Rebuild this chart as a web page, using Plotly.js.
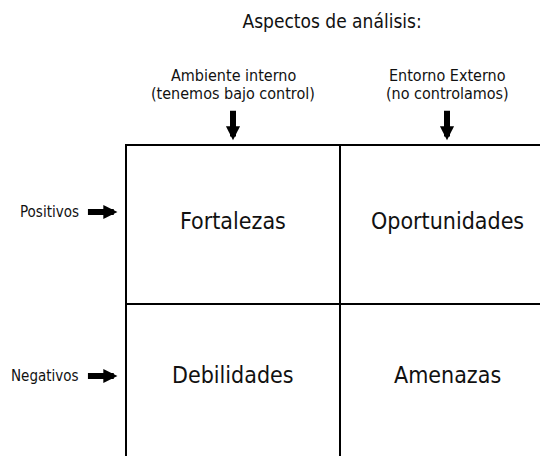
<!DOCTYPE html>
<html>
<head>
<meta charset="utf-8">
<script src="https://cdn.plot.ly/plotly-3.0.1.min.js"></script>
<style>
  html, body { margin: 0; padding: 0; background: #ffffff; }
  #chart { width: 540px; height: 456px; }
</style>
</head>
<body>
<div id="chart"></div>
<script>
// ---- data ----
const chartTitle = "Aspectos de análisis:";
const columnHeaderTop = ["Ambiente interno", "Entorno Externo"];
const columnHeaderBottom = ["(tenemos bajo control)", "(no controlamos)"];
const rowLabels = ["Positivos", "Negativos"];
const topRowCells = ["Fortalezas", "Oportunidades"];
const bottomRowCells = ["Debilidades", "Amenazas"];

// ---- layout helpers (positions / styles) ----
const FONT = '"DejaVu Sans Condensed", "Liberation Sans Narrow", sans-serif';
const INK = '#111111';
const colCenters = [0.5, 1.5];         // column centres in data units
const rowArrowY = [1.579, 0.547];      // y of the row labels / arrows
const cellTextY = [1.522, 0.553];      // y of the cell texts
const headerY = [2.44, 2.327];         // two header lines
const arrowTipY = 2.03;                // down arrows tip
const rowArrowTipX = -0.04;            // right arrows tip

const annotations = [];

// column headers + down arrows
colCenters.forEach((cx, i) => {
  annotations.push({x: cx, y: headerY[0], xref: 'x', yref: 'y', text: columnHeaderTop[i],
    showarrow: false, xanchor: 'center', yanchor: 'middle', font: {family: FONT, size: 16, color: INK}});
  annotations.push({x: cx, y: headerY[1], xref: 'x', yref: 'y', text: columnHeaderBottom[i],
    showarrow: false, xanchor: 'center', yanchor: 'middle', font: {family: FONT, size: 16, color: INK}});
  annotations.push({x: cx, y: arrowTipY, xref: 'x', yref: 'y', text: '', showarrow: true,
    ax: 0, ay: -31, arrowhead: 2, arrowsize: 0.47, arrowwidth: 6, arrowcolor: '#000', standoff: 0});
});

// row labels + right arrows
rowLabels.forEach((lab, j) => {
  annotations.push({x: rowArrowTipX, y: rowArrowY[j], xref: 'x', yref: 'y', text: '', showarrow: true,
    ax: -31, ay: 0, arrowhead: 2, arrowsize: 0.47, arrowwidth: 6, arrowcolor: '#000', standoff: 0});
  annotations.push({x: rowArrowTipX, y: rowArrowY[j], xref: 'x', yref: 'y', text: lab,
    showarrow: false, xanchor: 'right', yanchor: 'middle', xshift: -36,
    font: {family: FONT, size: 15, color: INK}});
});

// cell labels
[topRowCells, bottomRowCells].forEach((row, j) => {
  row.forEach((lab, i) => {
    annotations.push({x: colCenters[i], y: cellTextY[j], xref: 'x', yref: 'y', text: lab,
      showarrow: false, xanchor: 'center', yanchor: 'middle', font: {family: FONT, size: 23, color: INK}});
  });
});

// grid lines (2x2 matrix)
const lineStyle = {color: '#000000', width: 2};
const shapes = [
  {type: 'rect', xref: 'x', yref: 'y', x0: 0, x1: 2, y0: 0, y1: 2, line: lineStyle},
  {type: 'line', xref: 'x', yref: 'y', x0: 1, x1: 1, y0: 0, y1: 2, line: lineStyle},
  {type: 'line', xref: 'x', yref: 'y', x0: 0, x1: 2, y0: 1, y1: 1, line: lineStyle}
];

const layout = {
  width: 540, height: 456,
  margin: {l: 0, r: 0, t: 0, b: 0},
  paper_bgcolor: '#ffffff', plot_bgcolor: '#ffffff',
  showlegend: false,
  title: {text: chartTitle, x: 0.615, xanchor: 'center', y: 0.954, yanchor: 'middle',
          font: {family: FONT, size: 19, color: INK}},
  xaxis: {range: [-126/214, 414/214], visible: false, fixedrange: true},
  yaxis: {range: [2 - 311/159, 2 + 145/159], visible: false, fixedrange: true},
  shapes: shapes,
  annotations: annotations
};

Plotly.newPlot('chart', [], layout, {staticPlot: true, displayModeBar: false});
</script>
</body>
</html>
